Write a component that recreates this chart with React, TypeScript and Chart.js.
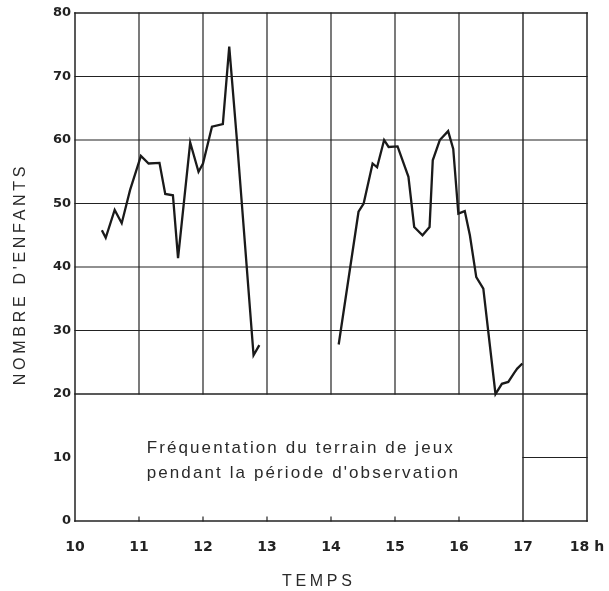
import React, { useEffect, useRef } from 'react';
import { Chart, registerables } from 'chart.js';

Chart.register(...registerables);

// Morning session (hours, number of children)
const morningHours = [10.42, 10.48, 10.62, 10.73, 10.86, 11.03, 11.15, 11.32, 11.41, 11.53, 11.61, 11.8, 11.93, 12.0, 12.14, 12.31, 12.41, 12.53, 12.79, 12.88];
const morningChildren = [45.8, 44.6, 49.0, 46.9, 52.1, 57.5, 56.3, 56.4, 51.5, 51.3, 41.4, 59.6, 55.0, 56.3, 62.1, 62.5, 74.7, 60.0, 26.1, 27.7];

// Afternoon session
const afternoonHours = [14.12, 14.43, 14.51, 14.65, 14.72, 14.83, 14.9, 15.04, 15.21, 15.3, 15.43, 15.54, 15.59, 15.7, 15.83, 15.91, 15.99, 16.09, 16.17, 16.27, 16.38, 16.57, 16.67, 16.77, 16.86, 16.91, 16.99];
const afternoonChildren = [27.8, 48.7, 50.0, 56.3, 55.7, 60.0, 58.9, 59.0, 54.2, 46.3, 45.0, 46.3, 56.8, 60.0, 61.4, 58.6, 48.4, 48.8, 45.0, 38.4, 36.6, 20.0, 21.6, 21.9, 23.3, 24.0, 24.8];

const hourTicks = [10, 11, 12, 13, 14, 15, 16, 17, 18];
const countTicks = [0, 10, 20, 30, 40, 50, 60, 70, 80];
const lastHourLabel = '18 h';
const yTitle = "NOMBRE D'ENFANTS";
const xTitle = 'TEMPS';
const noteLines = ['Fréquentation du terrain de jeux', "pendant la période d'observation"];

const INK = '#222222';

const framePlugin = {
  id: 'frame',
  beforeDatasetsDraw(chart: any) {
    const { ctx } = chart;
    const xs = chart.scales.x;
    const ys = chart.scales.y;
    const X = (v: number) => xs.getPixelForValue(v);
    const Y = (v: number) => ys.getPixelForValue(v);
    ctx.save();
    ctx.strokeStyle = INK;
    ctx.lineCap = 'square';
    const seg = (x1: number, y1: number, x2: number, y2: number, w: number) => {
      ctx.lineWidth = w;
      ctx.beginPath();
      ctx.moveTo(X(x1), Y(y1));
      ctx.lineTo(X(x2), Y(y2));
      ctx.stroke();
    };
    for (let v = 30; v <= 70; v += 10) seg(10, v, 18, v, 1.2);
    seg(10, 80, 18, 80, 1.6);
    seg(10, 20, 18, 20, 1.5);
    seg(17, 10, 18, 10, 1.2);
    seg(10, 0, 18, 0, 1.7);
    for (let h = 11; h <= 16; h++) seg(h, 20, h, 80, 1.2);
    seg(17, 0, 17, 80, 1.4);
    seg(10, 0, 10, 80, 1.5);
    seg(18, 0, 18, 80, 1.5);
    ctx.lineWidth = 1.2;
    for (let h = 11; h <= 16; h++) {
      ctx.beginPath();
      ctx.moveTo(X(h), Y(0));
      ctx.lineTo(X(h), Y(0) - 4);
      ctx.stroke();
    }
    ctx.restore();
  },
  afterDraw(chart: any) {
    const { ctx } = chart;
    const xs = chart.scales.x;
    const ys = chart.scales.y;
    ctx.save();
    ctx.fillStyle = '#2a2a2a';
    // note inside the lower box
    ctx.font = '17px "Liberation Sans", Arial, sans-serif';
    (ctx as any).letterSpacing = '2.1px';
    ctx.textAlign = 'left';
    ctx.textBaseline = 'alphabetic';
    const nx = xs.getPixelForValue(11.12);
    ctx.fillText(noteLines[0], nx, ys.getPixelForValue(10.66));
    ctx.fillText(noteLines[1], nx, ys.getPixelForValue(6.77));
    // axis titles
    ctx.font = '16px "Liberation Sans", Arial, sans-serif';
    (ctx as any).letterSpacing = '3.7px';
    ctx.textAlign = 'left';
    ctx.fillText(xTitle, 282, 586);
    ctx.translate(25, 274);
    ctx.rotate(-Math.PI / 2);
    ctx.textAlign = 'center';
    ctx.fillText(yTitle, 0, 0);
    ctx.restore();
  },
};

export default function App() {
  const canvasRef = useRef<HTMLCanvasElement | null>(null);

  useEffect(() => {
    const canvas = canvasRef.current;
    if (!canvas) return;
    const lineStyle = {
      borderColor: '#1a1a1a',
      borderWidth: 2.3,
      pointRadius: 0,
      tension: 0,
      fill: false,
      borderJoinStyle: 'miter' as const,
    };
    const chart = new Chart(canvas, {
      type: 'line',
      data: {
        datasets: [
          { ...lineStyle, label: 'matin', data: morningHours.map((h, i) => ({ x: h, y: morningChildren[i] })) },
          { ...lineStyle, label: 'après-midi', data: afternoonHours.map((h, i) => ({ x: h, y: afternoonChildren[i] })) },
        ],
      },
      options: {
        animation: false,
        responsive: true,
        maintainAspectRatio: false,
        layout: { padding: { top: 13, right: 22, left: 0, bottom: 0 } },
        plugins: { legend: { display: false }, tooltip: { enabled: false } },
        scales: {
          x: {
            type: 'linear',
            min: 10,
            max: 18,
            grid: { display: false, drawTicks: false },
            border: { display: false },
            afterBuildTicks: (s: any) => { s.ticks = hourTicks.map((v) => ({ value: v })); },
            afterFit: (s: any) => {
              s.height = 70;
              s.paddingLeft = 0;
              s.paddingRight = 0;
            },
            ticks: {
              padding: 18,
              color: INK,
              maxRotation: 0,
              autoSkip: false,
              font: { family: '"DejaVu Sans", sans-serif', size: 14, weight: 'bold' },
              callback: (v: any) => (Number(v) === 18 ? lastHourLabel : String(v)),
            },
          },
          y: {
            type: 'linear',
            min: 0,
            max: 80,
            grid: { display: false, drawTicks: false },
            border: { display: false },
            afterBuildTicks: (s: any) => { s.ticks = countTicks.map((v) => ({ value: v })); },
            afterFit: (s: any) => {
              s.width = 75;
              s.paddingTop = 0;
              s.paddingBottom = 0;
            },
            ticks: {
              padding: 4,
              color: INK,
              autoSkip: false,
              font: { family: '"DejaVu Sans", sans-serif', size: 13, weight: 'bold' },
            },
          },
        },
      },
      plugins: [framePlugin],
    });
    return () => chart.destroy();
  }, []);

  return (
    <div style={{ position: 'fixed', left: 0, top: 0, width: 609, height: 591, background: '#fff' }}>
      <canvas ref={canvasRef} />
    </div>
  );
}
